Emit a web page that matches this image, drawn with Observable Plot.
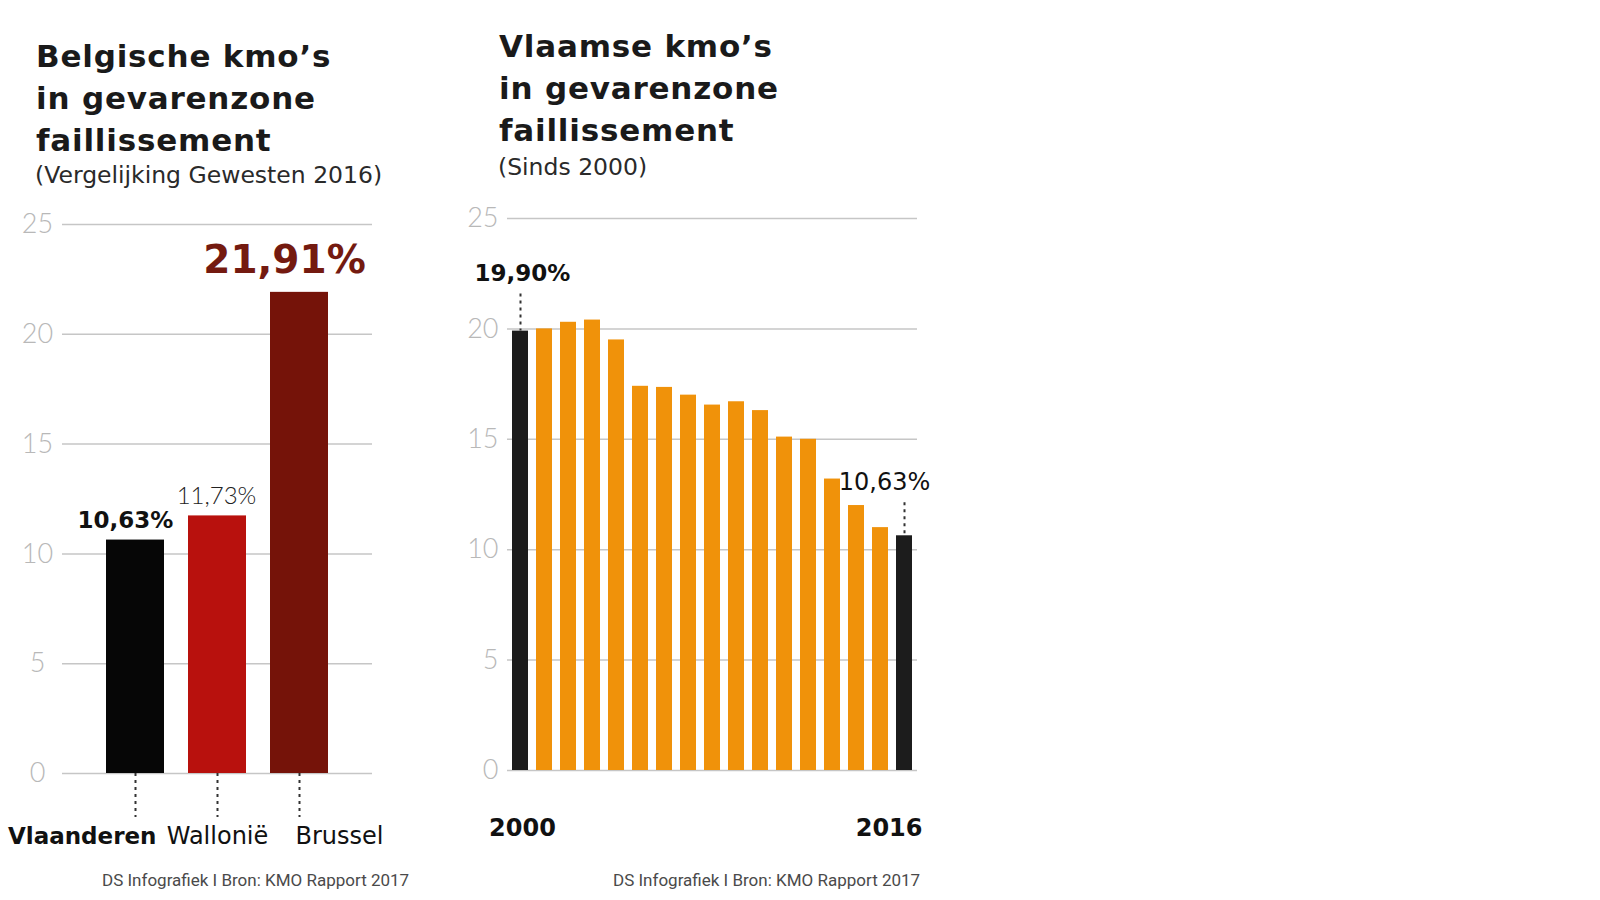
<!DOCTYPE html>
<html><head><meta charset="utf-8">
<script src="https://cdn.jsdelivr.net/npm/d3@7"></script>
<script src="https://cdn.jsdelivr.net/npm/@observablehq/plot@0.6"></script>
<style>
body{margin:0;background:#fff;width:1600px;height:900px;position:relative;overflow:hidden;}
.abs{position:absolute;white-space:nowrap;}
.title{font-family:"DejaVu Sans",sans-serif;font-weight:700;font-size:31px;line-height:42px;color:#1a1a1a;letter-spacing:0.8px;}
.sub{font-family:"DejaVu Sans",sans-serif;font-weight:400;font-size:23.5px;line-height:28px;color:#2a2a2a;}
.cap{font-family:Roboto,sans-serif;font-size:17px;line-height:20px;color:#4a4a4a;letter-spacing:0px;}
svg{overflow:visible;}
</style></head><body>
<div class="abs title" style="left:36px;top:35px">Belgische kmo’s<br>in gevarenzone<br>faillissement</div>
<div class="abs sub" style="left:35px;top:161px">(Vergelijking Gewesten 2016)</div>
<div class="abs" id="left" style="left:0;top:200px"></div>
<div class="abs cap" style="left:102px;top:870px">DS Infografiek I Bron: KMO Rapport 2017</div>

<div class="abs title" style="left:499px;top:25px">Vlaamse kmo’s<br>in gevarenzone<br>faillissement</div>
<div class="abs sub" style="left:498px;top:153px">(Sinds 2000)</div>
<div class="abs" id="right" style="left:440px;top:190px"></div>
<div class="abs cap" style="left:613px;top:870px">DS Infografiek I Bron: KMO Rapport 2017</div>

<script>
// ---- data: left chart (regions 2016)
const regions = ["Vlaanderen", "Wallonië", "Brussel"];
const regionValues = [10.63, 11.73, 21.91];
const regionLabels = ["10,63%", "11,73%", "21,91%"];
const regionColors = ["#060606", "#b8110d", "#751309"];

// ---- data: right chart (Vlaanderen since 2000)
const years = [2000, 2001, 2002, 2003, 2004, 2005, 2006, 2007, 2008, 2009, 2010, 2011, 2012, 2013, 2014, 2015, 2016];
const yearValues = [19.90, 20.0, 20.3, 20.4, 19.5, 17.4, 17.35, 17.0, 16.55, 16.7, 16.3, 15.1, 15.0, 13.2, 12.0, 11.0, 10.63];
const highlightYears = [2000, 2016];
const highlightLabels = ["19,90%", "10,63%"];

const yTicks = [0, 5, 10, 15, 20, 25];

const regionData = regions.map((r, i) => ({region: r, value: regionValues[i], label: regionLabels[i], color: regionColors[i]}));
const yearData = years.map((y, i) => ({year: y, value: yearValues[i], hl: highlightYears.includes(y)}));
const hlData = highlightYears.map((y, i) => ({year: y, value: yearValues[years.indexOf(y)], label: highlightLabels[i]}));

const grid = {stroke: "#c6c6c6", strokeOpacity: 1, strokeWidth: 1.5};
const tickText = {tickSize: 0, label: null, fontSize: 27, fill: "#b8b8b8", fontFamily: "Lato", fontWeight: 300};

const left = Plot.plot({
  width: 420, height: 660,
  marginLeft: 62, marginRight: 48, marginTop: 24, marginBottom: 87,
  style: {fontFamily: "DejaVu Sans", background: "transparent"},
  x: {domain: regions, padding: 0.295, insetLeft: 19, insetRight: 20, axis: null},
  y: {domain: [0, 25], axis: null, label: null},
  color: {type: "identity"},
  marks: [
    Plot.gridY(yTicks, grid),
    Plot.axisY(yTicks, {...tickText, tickPadding: 25, textAnchor: "middle"}),
    Plot.barY(regionData, {x: "region", y: "value", fill: "color"}),
    Plot.ruleX(regionData, {x: "region", y1: 0, y2: 0, insetBottom: -44, stroke: "#333", strokeWidth: 2, strokeDasharray: "3,4"}),
    Plot.text(regionData.filter(d => d.region === "Vlaanderen"), {x: "region", text: "region", frameAnchor: "bottom", lineAnchor: "bottom", dy: 70, dx: 21, textAnchor: "end", fontSize: 23, fontWeight: 700, fill: "#111"}),
    Plot.text(regionData.filter(d => d.region === "Wallonië"), {x: "region", text: "region", frameAnchor: "bottom", lineAnchor: "bottom", dy: 70, fontSize: 24, fontWeight: 400, fill: "#111"}),
    Plot.text(regionData.filter(d => d.region === "Brussel"), {x: "region", text: "region", frameAnchor: "bottom", lineAnchor: "bottom", dy: 70, dx: -4, textAnchor: "start", fontSize: 24, fontWeight: 400, fill: "#111"}),
    Plot.text(regionData.filter(d => d.region === "Vlaanderen"), {x: "region", y: "value", text: "label", lineAnchor: "bottom", dy: -12, dx: -10, fontSize: 23, fontWeight: 700, fill: "#111"}),
    Plot.text(regionData.filter(d => d.region === "Wallonië"), {x: "region", y: "value", text: "label", lineAnchor: "bottom", dy: -12, dx: -1, fontSize: 24, fontFamily: "Lato", fontWeight: 300, fill: "#222"}),
    Plot.text(regionData.filter(d => d.region === "Brussel"), {x: "region", y: "value", text: "label", lineAnchor: "bottom", dy: -19, dx: -15, fontSize: 39, fontWeight: 700, fill: "#741a10"})
  ]
});
document.getElementById("left").append(left);

const right = Plot.plot({
  width: 500, height: 680,
  marginLeft: 67, marginRight: 23, marginTop: 28, marginBottom: 100,
  style: {fontFamily: "DejaVu Sans", background: "transparent"},
  x: {type: "band", domain: years, paddingInner: 0.34, paddingOuter: 0.1, axis: null},
  y: {domain: [0, 25], axis: null, label: null},
  marks: [
    Plot.gridY(yTicks, grid),
    Plot.axisY(yTicks, {...tickText, tickPadding: 9}),
    Plot.barY(yearData, {x: "year", y: "value", fill: d => d.hl ? "#1c1c1c" : "#f0920a"}),
    Plot.ruleX(hlData.filter(d => d.year === 2000), {x: "year", y1: "value", y2: "value", insetTop: -37, stroke: "#333", strokeWidth: 2, strokeDasharray: "3,4"}),
    Plot.ruleX(hlData.filter(d => d.year === 2016), {x: "year", y1: "value", y2: "value", insetTop: -33, stroke: "#333", strokeWidth: 2, strokeDasharray: "3,4"}),
    Plot.text(hlData.filter(d => d.year === 2000), {x: "year", y: "value", text: "label", lineAnchor: "bottom", dy: -50, dx: 2, fontSize: 23, fontWeight: 700, fill: "#111"}),
    Plot.text(hlData.filter(d => d.year === 2016), {x: "year", y: "value", text: "label", lineAnchor: "bottom", dy: -46, dx: -20, fontSize: 24, fontWeight: 400, fill: "#111"}),
    Plot.text(hlData.filter(d => d.year === 2000), {x: "year", text: d => String(d.year), frameAnchor: "bottom", lineAnchor: "bottom", dy: 65, dx: 2, fontSize: 24, fontWeight: 700, fill: "#111"}),
    Plot.text(hlData.filter(d => d.year === 2016), {x: "year", text: d => String(d.year), frameAnchor: "bottom", lineAnchor: "bottom", dy: 65, dx: 18, textAnchor: "end", fontSize: 24, fontWeight: 700, fill: "#111"})
  ]
});
document.getElementById("right").append(right);
</script>
</body></html>
